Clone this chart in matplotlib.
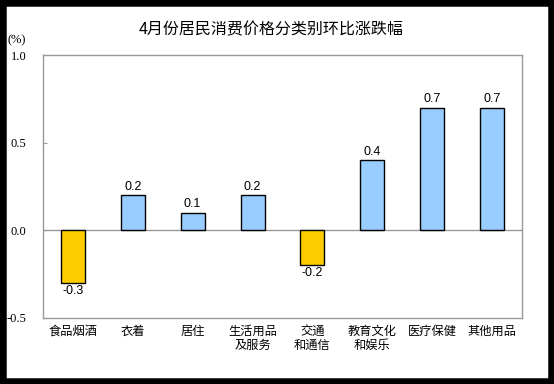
import matplotlib.pyplot as plt
from matplotlib.patches import Rectangle

plt.rcParams['font.family'] = ['Noto Sans CJK SC', 'DejaVu Sans']

categories = ['食品烟酒', '衣着', '居住', '生活用品\n及服务', '交通\n和通信', '教育文化\n和娱乐', '医疗保健', '其他用品']
values = [-0.3, 0.2, 0.1, 0.2, -0.2, 0.4, 0.7, 0.7]
yticks = [-0.5, 0.0, 0.5, 1.0]
ytick_labels = ['-0.5', '0.0', '0.5', '1.0']

fig = plt.figure(figsize=(5.54, 3.84), dpi=100)
fig.patch.set_facecolor('white')
# black frame round the picture
fig.patches.append(Rectangle((0, 0), 1, 1, transform=fig.transFigure, fill=False,
                             edgecolor='black', linewidth=9, zorder=10))

ax = fig.add_axes([43/554, 1 - 318/384, 479/554, 263/384])
colors = ['#FFCC00' if v < 0 else '#99CCFF' for v in values]
x = range(len(values))
ax.bar(x, values, width=0.40, color=colors, edgecolor='black', linewidth=1, zorder=3)
ax.axhline(0, color='#999999', linewidth=1, zorder=2)

for i, v in enumerate(values):
    if v >= 0:
        ax.text(i, v + 0.015, f'{v:.1f}', ha='center', va='bottom', fontsize=9, family='Liberation Sans')
    else:
        ax.text(i, v - 0.01, f'{v:.1f}', ha='center', va='top', fontsize=9, family='Liberation Sans')

ax.set_xlim(-0.5, len(values) - 0.5)
ax.set_ylim(-0.5, 1.0)
ax.set_yticks(yticks)
ax.set_yticklabels(ytick_labels, family='Liberation Serif', fontsize=9)
ax.set_xticks(list(x))
ax.set_xticklabels(categories, fontsize=8.8, linespacing=1.05)
ax.tick_params(axis='y', direction='in', length=3, color='#999999', pad=12)
ax.tick_params(axis='x', length=0, pad=5)
for s in ax.spines.values():
    s.set_color('#999999')
    s.set_linewidth(1)

fig.text(271/554, 1 - 30/384, '4月份居民消费价格分类别环比涨跌幅', ha='center', va='center', fontsize=11.5)
fig.text(8/554, 1 - 40/384, '(%)', ha='left', va='center', family='Liberation Serif', fontsize=9)

fig.savefig('out.png', dpi=100)
